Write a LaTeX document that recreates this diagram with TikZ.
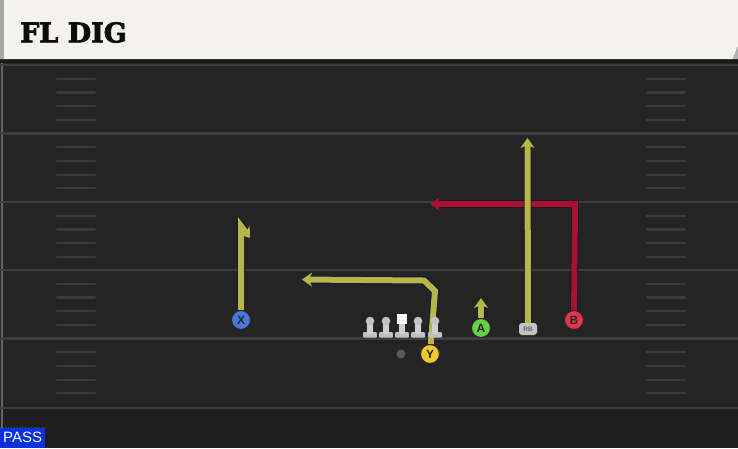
\documentclass[tikz,border=0pt]{standalone}
\usepackage{fontspec}
\usetikzlibrary{arrows.meta}
\newfontfamily\titlefont{DejaVu Serif}[FakeBold=3]
\newfontfamily\labelfont{Liberation Sans}
\definecolor{field}{HTML}{242424}
\definecolor{fieldlow}{HTML}{1E1E1E}
\definecolor{titlebg}{HTML}{F4F2EC}
\definecolor{yardline}{HTML}{3E3E3E}
\definecolor{hashline}{HTML}{3B3B3B}
\definecolor{yroute}{HTML}{B7B64A}
\definecolor{rroute}{HTML}{A8122E}
\definecolor{routeedge}{HTML}{12122A}
\definecolor{xblue}{HTML}{4A78DA}
\definecolor{yyellow}{HTML}{F0C82A}
\definecolor{agreen}{HTML}{68D048}
\definecolor{bred}{HTML}{E8344A}
\definecolor{rbgray}{HTML}{C4C4C4}
\definecolor{lmgray}{HTML}{CFCFCF}
\definecolor{passblue}{HTML}{0A30E0}
\pgfdeclarelayer{bg}
\pgfdeclarelayer{routes}
\pgfsetlayers{bg,routes,main}
\begin{document}
\begin{tikzpicture}[x=1pt,y=-1pt,
  yard/.style={draw=yardline, line width=2.2pt},
  hashmark/.style={draw=hashline, line width=2.2pt, line cap=round},
  player/.style={circle, draw=black!85, line width=1pt, minimum size=19pt, inner sep=0pt,
    font=\labelfont\bfseries\fontsize{12}{12}\selectfont, text=black!85},
  tip/.style={-{Stealth[length=10pt,width=14pt,inset=3pt]}},
  routeY/.style={draw=yroute, line width=6pt, line join=miter,
    preaction={draw=routeedge, line width=7.5pt}},
  routeR/.style={draw=rroute, line width=6pt, line join=miter,
    preaction={draw=routeedge, line width=7.5pt}},
  lineman/.pic={
    \fill[lmgray!80!gray, rounded corners=1pt] (-7,2) rectangle (7,7.5);
    \fill[lmgray] (-2.6,-9) rectangle (2.6,4);
    \fill[lmgray!85!gray] (0,-9) circle (4.3);
  },
  center/.pic={
    \fill[lmgray!80!gray, rounded corners=1pt] (-7,2) rectangle (7,7.5);
    \fill[lmgray] (-2.6,-6) rectangle (2.6,4);
    \fill[white!95!lmgray] (-5,-16) rectangle (5,-6);
  }]
\useasboundingbox (0,0) rectangle (738,448);
\begin{pgfonlayer}{bg}
  \fill[field] (0,0) rectangle (738,448);
  \fill[fieldlow] (0,408) rectangle (738,448);
  \draw[draw=yardline!80, line width=2pt] (1.5,63) -- (1.5,448);
  \foreach \b in {65,133.5,202,270,338.5,408}
    \draw[yard] (0,\b) -- (738,\b);
  \foreach \b in {65,133.5,202,270,338.5}
    \foreach \k in {1,2,3,4} {
      \draw[hashmark] (57,{\b+\k*13.7}) -- (95,{\b+\k*13.7});
      \draw[hashmark] (647,{\b+\k*13.7}) -- (685,{\b+\k*13.7});
    }
  % title bar
  \fill[black!90] (0,57) rectangle (738,63);
  \fill[titlebg] (0,0) -- (738,0) -- (738,46) -- (733,59) -- (0,59) -- cycle;
  \fill[gray!70] (0,0) rectangle (4,59);
  \fill[gray!60] (738,46) -- (733,59) -- (738,59) -- cycle;
  \draw[black!40!gray, dotted, line width=0.8pt] (0,427) -- (45,427);
\end{pgfonlayer}
\node[anchor=west, inner sep=0pt, text=black!95,
  font=\titlefont\bfseries\fontsize{27}{27}\selectfont] (title) at (20,32.5) {FL DIG};
\node[anchor=south west, fill=passblue, text=white, inner sep=0pt, minimum width=45pt,
  minimum height=20pt, font=\labelfont\fontsize{15}{15}\selectfont] (pass) at (0,448) {PASS};
% line
\pic at (370,330) {lineman};
\pic at (386,330) {lineman};
\pic at (402,330) {center};
\pic at (418,330) {lineman};
\pic at (435,330) {lineman};
\node[circle, fill=gray!70!black, minimum size=9pt, inner sep=0pt] (ball) at (401,354) {};
% players
\node[player, fill=xblue] (X) at (241,320) {X};
\node[player, fill=yyellow] (Y) at (430,354) {Y};
\node[player, fill=agreen] (A) at (481,328) {A};
\node[player, fill=bred] (B) at (574,320) {B};
\node[rounded corners=3pt, fill=rbgray, minimum width=18pt, minimum height=12pt, inner sep=0pt,
  text=black!60, font=\labelfont\bfseries\fontsize{6.5}{6.5}\selectfont] (RB) at (528,329) {RB};
% route points
\coordinate (xtop) at (241,226);
\coordinate (xflag) at (250,238);
\coordinate (y1) at (435,291);
\coordinate (y2) at (424,280.5);
\coordinate (yend) at (302,279.5);
\coordinate (aend) at (481,298);
\coordinate (rbend) at (527.5,138);
\coordinate (b1) at (575,204);
\coordinate (bend) at (430,204);
\begin{pgfonlayer}{routes}
  \draw[routeR, tip] (B) -- (b1) -- (bend);
  \draw[routeY, tip] (X) -- (xtop) -- (xflag);
  \draw[routeY, tip] (Y) -- (y1) -- (y2) -- (yend);
  \draw[routeY, tip] (A) -- (aend);
  \draw[routeY, tip] (RB) -- (rbend);
\end{pgfonlayer}
\end{tikzpicture}
\end{document}
